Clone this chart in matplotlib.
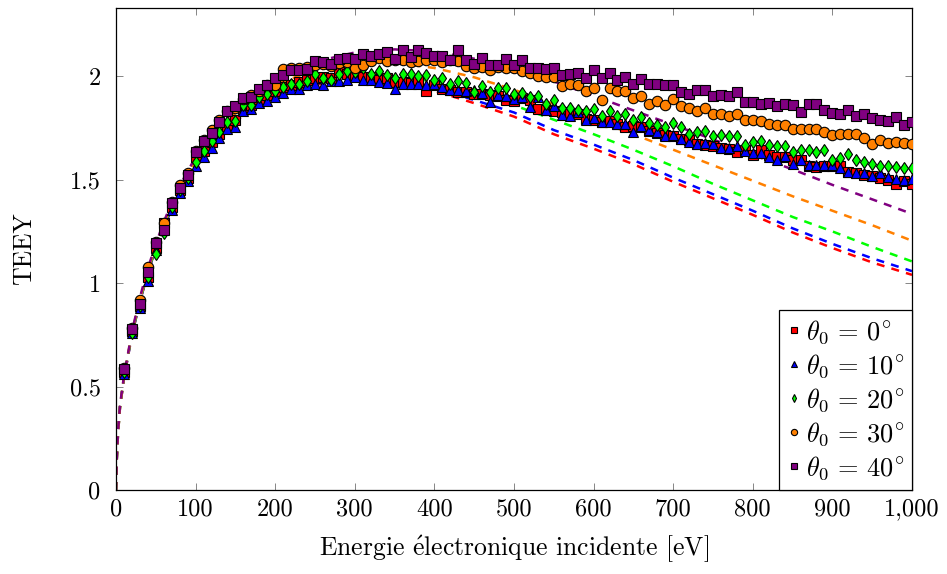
import numpy as np
import matplotlib
matplotlib.use('agg')
import matplotlib.pyplot as plt

plt.rcParams['font.family'] = ['cmr10', 'DejaVu Serif']
plt.rcParams['mathtext.fontset'] = 'cm'
plt.rcParams['axes.formatter.use_mathtext'] = True

# energies of the measured points [eV]
energy = np.arange(10, 1010, 10)

# measured TEEY, one list per incidence angle (10 eV .. 1000 eV)
teey_0 = [0.57, 0.77, 0.89, 1.03, 1.17, 1.29, 1.37, 1.45, 1.51, 1.61,
          1.64, 1.68, 1.72, 1.76, 1.79, 1.84, 1.86, 1.89, 1.91, 1.93,
          1.95, 1.96, 1.97, 1.98, 1.99, 1.997, 1.99, 2.02, 2.013, 2.005,
          1.997, 1.997, 1.984, 1.99, 1.973, 1.97, 1.968, 1.975, 1.93, 1.958,
          1.94, 1.936, 1.922, 1.926, 1.916, 1.916, 1.908, 1.903, 1.884, 1.881,
          1.897, 1.887, 1.843, 1.839, 1.832, 1.827, 1.823, 1.819, 1.795, 1.79,
          1.779, 1.784, 1.771, 1.755, 1.758, 1.755, 1.735, 1.726, 1.715, 1.71,
          1.699, 1.69, 1.671, 1.666, 1.661, 1.655, 1.65, 1.634, 1.645, 1.618,
          1.642, 1.618, 1.61, 1.61, 1.597, 1.597, 1.565, 1.562, 1.565, 1.565,
          1.565, 1.538, 1.533, 1.521, 1.517, 1.51, 1.5, 1.481, 1.494, 1.481]
teey_10 = [0.56, 0.76, 0.88, 1.01, 1.16, 1.27, 1.353, 1.436, 1.494, 1.565,
           1.61, 1.653, 1.70, 1.747, 1.755, 1.83, 1.84, 1.87, 1.88, 1.9,
           1.92, 1.94, 1.94, 1.956, 1.964, 1.956, 1.977, 1.977, 1.984, 1.997,
           1.98, 1.984, 1.973, 1.969, 1.94, 1.963, 1.961, 1.964, 1.956, 1.965,
           1.95, 1.932, 1.935, 1.929, 1.935, 1.919, 1.876, 1.908, 1.903, 1.892,
           1.9, 1.852, 1.9, 1.839, 1.855, 1.811, 1.806, 1.827, 1.787, 1.8,
           1.779, 1.779, 1.768, 1.768, 1.731, 1.758, 1.739, 1.731, 1.71, 1.715,
           1.699, 1.682, 1.671, 1.678, 1.674, 1.655, 1.655, 1.661, 1.639, 1.629,
           1.629, 1.61, 1.597, 1.613, 1.575, 1.594, 1.57, 1.57, 1.57, 1.57,
           1.558, 1.538, 1.53, 1.53, 1.517, 1.533, 1.513, 1.505, 1.497, 1.505]
teey_20 = [0.57, 0.758, 0.89, 1.03, 1.14, 1.24, 1.37, 1.45, 1.51, 1.586,
           1.64, 1.685, 1.73, 1.779, 1.782, 1.86, 1.86, 1.9, 1.916, 1.93,
           1.95, 1.964, 1.964, 1.977, 2.01, 1.99, 1.984, 2.013, 2.026, 2.021,
           2.042, 2.01, 2.026, 2.005, 1.994, 2.011, 2.012, 2.002, 2.005, 1.984,
           1.992, 1.963, 1.978, 1.967, 1.924, 1.951, 1.924, 1.945, 1.945, 1.913,
           1.919, 1.9, 1.903, 1.868, 1.887, 1.848, 1.848, 1.835, 1.832, 1.843,
           1.806, 1.832, 1.806, 1.816, 1.79, 1.803, 1.774, 1.763, 1.755, 1.774,
           1.755, 1.72, 1.731, 1.736, 1.71, 1.715, 1.71, 1.71, 1.666, 1.682,
           1.687, 1.666, 1.661, 1.661, 1.634, 1.642, 1.645, 1.634, 1.642, 1.597,
           1.607, 1.623, 1.594, 1.586, 1.578, 1.565, 1.565, 1.562, 1.558, 1.558]
teey_30 = [0.59, 0.785, 0.918, 1.079, 1.2, 1.29, 1.39, 1.475, 1.53, 1.64,
           1.69, 1.74, 1.79, 1.83, 1.847, 1.89, 1.91, 1.93, 1.96, 1.957,
           2.037, 2.042, 2.04, 2.045, 2.055, 2.06, 2.05, 2.065, 2.07, 2.04,
           2.056, 2.072, 2.09, 2.074, 2.08, 2.077, 2.07, 2.072, 2.077, 2.08,
           2.07, 2.08, 2.075, 2.05, 2.04, 2.045, 2.03, 2.045, 2.04, 2.041,
           2.025, 2.016, 2.003, 1.996, 1.998, 1.955, 1.963, 1.958, 1.93, 1.945,
           1.887, 1.945, 1.929, 1.929, 1.897, 1.903, 1.868, 1.881, 1.86, 1.892,
           1.855, 1.848, 1.832, 1.848, 1.819, 1.816, 1.806, 1.816, 1.787, 1.787,
           1.784, 1.771, 1.763, 1.763, 1.747, 1.747, 1.747, 1.747, 1.731, 1.715,
           1.72, 1.723, 1.72, 1.703, 1.674, 1.69, 1.678, 1.682, 1.678, 1.674]
teey_40 = [0.585, 0.778, 0.899, 1.055, 1.193, 1.256, 1.388, 1.462, 1.525, 1.634,
           1.686, 1.727, 1.779, 1.83, 1.856, 1.895, 1.9, 1.94, 1.96, 1.992,
           2.005, 2.029, 2.029, 2.034, 2.072, 2.068, 2.06, 2.085, 2.09, 2.085,
           2.11, 2.10, 2.11, 2.117, 2.085, 2.126, 2.093, 2.126, 2.113, 2.10,
           2.097, 2.077, 2.126, 2.077, 2.061, 2.09, 2.053, 2.053, 2.085, 2.053,
           2.077, 2.042, 2.042, 2.037, 2.042, 2.005, 2.009, 2.016, 1.993, 2.029,
           1.993, 2.016, 1.984, 1.997, 1.961, 1.988, 1.964, 1.964, 1.956, 1.956,
           1.924, 1.916, 1.935, 1.935, 1.903, 1.908, 1.903, 1.924, 1.876, 1.876,
           1.864, 1.871, 1.855, 1.864, 1.86, 1.827, 1.868, 1.868, 1.839, 1.824,
           1.816, 1.835, 1.806, 1.816, 1.8, 1.79, 1.784, 1.803, 1.766, 1.777]

# model curves (dashed)
energy_model = [0, 1, 2.5, 5, 10, 20, 30, 40, 50, 60, 70, 80, 100, 125, 150, 175,
                200, 250, 300, 350, 400, 450, 500, 550, 600, 650, 700, 750, 800,
                850, 900, 950, 1000]
model_0 = [0, 0.15, 0.27, 0.40, 0.54, 0.75, 0.91, 1.05, 1.17, 1.27, 1.36, 1.44,
           1.57, 1.69, 1.78, 1.86, 1.91, 1.96, 1.98, 1.965, 1.93, 1.87, 1.805,
           1.72, 1.65, 1.575, 1.49, 1.41, 1.33, 1.245, 1.17, 1.10, 1.04]
model_10 = [0, 0.15, 0.27, 0.40, 0.54, 0.75, 0.91, 1.05, 1.17, 1.27, 1.36, 1.44,
            1.575, 1.695, 1.785, 1.865, 1.915, 1.965, 1.985, 1.975, 1.945, 1.885,
            1.825, 1.74, 1.67, 1.595, 1.51, 1.43, 1.35, 1.265, 1.19, 1.12, 1.058]
model_20 = [0, 0.15, 0.27, 0.40, 0.545, 0.755, 0.915, 1.055, 1.175, 1.28, 1.37,
            1.45, 1.585, 1.71, 1.80, 1.88, 1.93, 1.98, 2.005, 2.0, 1.975, 1.925,
            1.86, 1.79, 1.72, 1.645, 1.565, 1.48, 1.40, 1.32, 1.25, 1.175, 1.105]
model_30 = [0, 0.15, 0.27, 0.40, 0.545, 0.76, 0.92, 1.06, 1.18, 1.285, 1.375,
            1.455, 1.595, 1.725, 1.82, 1.90, 1.96, 2.03, 2.06, 2.065, 2.04, 1.995,
            1.935, 1.865, 1.79, 1.72, 1.645, 1.57, 1.495, 1.42, 1.35, 1.28, 1.205]
model_40 = [0, 0.16, 0.28, 0.41, 0.55, 0.765, 0.93, 1.07, 1.19, 1.295, 1.39, 1.47,
            1.61, 1.74, 1.84, 1.925, 1.99, 2.07, 2.115, 2.13, 2.12, 2.085, 2.035,
            1.975, 1.905, 1.835, 1.765, 1.695, 1.62, 1.55, 1.475, 1.405, 1.335]

labels = [r'$\theta_0\,=\,0^{\circ}$', r'$\theta_0\,=\,10^{\circ}$', r'$\theta_0\,=\,20^{\circ}$',
          r'$\theta_0\,=\,30^{\circ}$', r'$\theta_0\,=\,40^{\circ}$']
colors = ['#ff0000', '#0000ff', '#00ff00', '#ff8000', '#800080']
markers = ['s', '^', 'd', 'o', 's']
msizes = [7, 7, 6.5, 7.5, 7.5]
measures = [teey_0, teey_10, teey_20, teey_30, teey_40]
models = [model_0, model_10, model_20, model_30, model_40]

fig = plt.figure(figsize=(9.47, 5.74), dpi=100)
ax = fig.add_axes([116/947, 1-490/574, (912-116)/947, (490-8)/574])

for m, c in zip(models, colors):
    ax.plot(energy_model, m, color=c, linewidth=1.8, dashes=(3.2, 2.9), zorder=2)

handles = []
for y, c, mk, ms, lab in zip(measures, colors, markers, msizes, labels):
    h, = ax.plot(energy, y, linestyle='none', marker=mk, markersize=ms,
                 markerfacecolor=c, markeredgecolor='black', markeredgewidth=0.8,
                 label=lab, zorder=3)
    handles.append(h)

ax.set_xlim(0, 1000)
ax.set_ylim(0, 2.33)
ax.set_xticks(range(0, 1001, 100))
ax.set_xticklabels(['0', '100', '200', '300', '400', '500', '600', '700', '800', '900', '1,000'])
ax.set_yticks([0, 0.5, 1, 1.5, 2])
ax.set_yticklabels(['0', '0.5', '1', '1.5', '2'])
ax.tick_params(direction='in', top=True, right=True, length=5, width=0.6,
               color='0.45', labelsize=17.5)
ax.tick_params(axis='y', pad=11)
ax.tick_params(axis='x', pad=6)
for s in ax.spines.values():
    s.set_linewidth(0.9)

ax.set_xlabel(r'Energie $\acute{\mathrm{e}}$lectronique incidente [eV]', fontsize=18.5, labelpad=10)
ax.set_ylabel('TEEY', fontsize=18.5, labelpad=24)

leg = ax.legend(handles=handles, loc='lower right', fontsize=19, frameon=True,
                fancybox=False, framealpha=1, edgecolor='black', borderaxespad=0,
                handlelength=0.5, handletextpad=0.2, markerscale=0.6,
                labelspacing=0.24, borderpad=0.3)
leg.get_frame().set_linewidth(0.9)

fig.savefig('out.png', dpi=100)
